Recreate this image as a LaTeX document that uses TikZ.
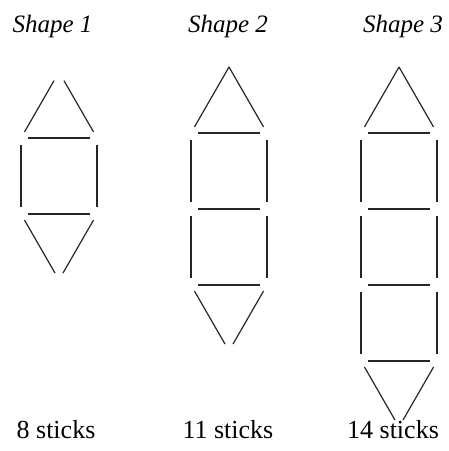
\documentclass[tikz,border=0pt]{standalone}
\usepackage{fontspec}
\setmainfont{LiberationSerif}[Extension=.ttf, UprightFont=*-Regular, ItalicFont=*-Italic, BoldFont=*-Bold]
\tikzset{
  stick/.style={line width=1.2pt, black!85, shorten <=7pt, shorten >=7pt},
  slant/.style={line width=1.2pt, black!85},
  title/.style={anchor=base, font=\rmfamily\fontsize{25}{30}\selectfont\itshape, inner sep=0pt},
  count/.style={anchor=base, font=\rmfamily\fontsize{26}{31}\selectfont, inner sep=0pt}
}
\begin{document}
\begin{tikzpicture}[x=1pt, y=-1pt]
  \useasboundingbox (0,0) rectangle (449,451);

  \node[title] (title1) at (52.5,32) {Shape 1};
  \node[title] (title2) at (228,32) {Shape 2};
  \node[title] (title3) at (403,32) {Shape 3};

  % x of left side, y of top, number of squares, gap at top apex
  \foreach \xl/\yt/\n/\ta in {21/138/1/10, 191/133/2/0, 361/133/3/0} {
    \pgfmathsetmacro{\xr}{\xl+76}
    \pgfmathsetmacro{\xm}{\xl+38}
    \pgfmathsetmacro{\yb}{\yt+76*\n}
    % roof
    \draw[slant, shorten <=7pt, shorten >=\ta pt] (\xl,\yt) -- (\xm,\yt-66);
    \draw[slant, shorten <=7pt, shorten >=\ta pt] (\xr,\yt) -- (\xm,\yt-66);
    % squares
    \foreach \k in {1,...,\n} {
      \draw[stick] (\xl,\yt+76*\k-76) -- (\xr,\yt+76*\k-76);
      \draw[stick] (\xl,\yt+76*\k-76) -- (\xl,\yt+76*\k);
      \draw[stick] (\xr,\yt+76*\k-76) -- (\xr,\yt+76*\k);
    }
    \draw[stick] (\xl,\yb) -- (\xr,\yb);
    % keel
    \draw[slant, shorten <=7pt, shorten >=8pt] (\xl,\yb) -- (\xm,\yb+66);
    \draw[slant, shorten <=7pt, shorten >=8pt] (\xr,\yb) -- (\xm,\yb+66);
  }

  \node[count] (count1) at (56,438) {8 sticks};
  \node[count] (count2) at (228,438) {11 sticks};
  \node[count] (count3) at (393,438) {14 sticks};
\end{tikzpicture}
\end{document}
